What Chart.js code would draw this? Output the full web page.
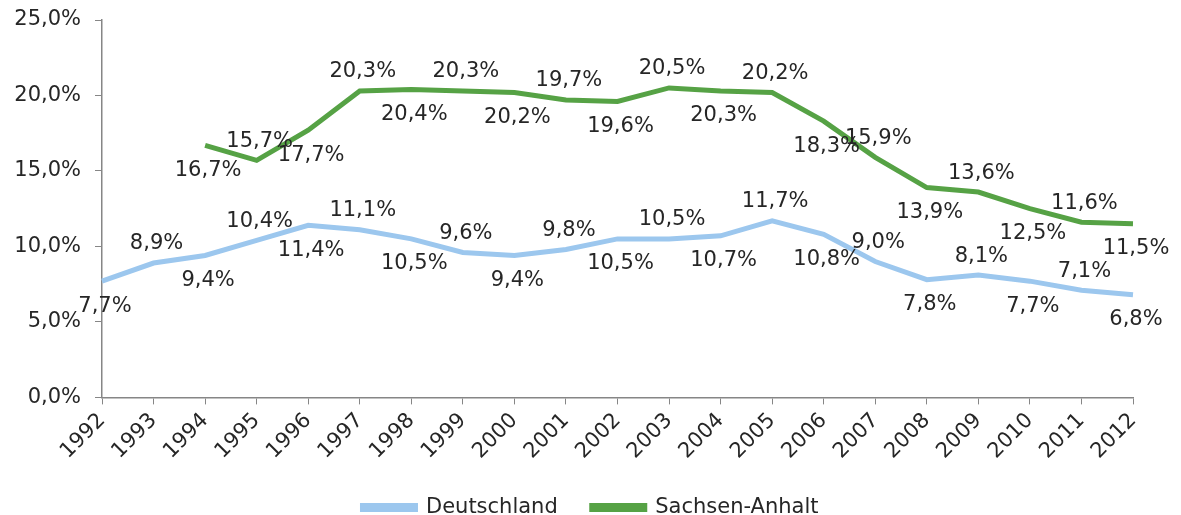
<!DOCTYPE html>
<html>
<head>
<meta charset="utf-8">
<script src="https://cdn.jsdelivr.net/npm/chart.js@4/dist/chart.umd.min.js"></script>
<style>
  html,body{margin:0;padding:0;background:#fff;}
  #wrap{width:1181px;height:515px;}
</style>
</head>
<body>
<div id="wrap"><canvas id="c" width="1181" height="515"></canvas></div>
<script>
const years = ['1992','1993','1994','1995','1996','1997','1998','1999','2000','2001','2002',
               '2003','2004','2005','2006','2007','2008','2009','2010','2011','2012'];
const deutschland = [7.7,8.9,9.4,10.4,11.4,11.1,10.5,9.6,9.4,9.8,10.5,10.5,10.7,11.7,10.8,9.0,7.8,8.1,7.7,7.1,6.8];
const sachsenAnhalt = [null,null,16.7,15.7,17.7,20.3,20.4,20.3,20.2,19.7,19.6,20.5,20.3,20.2,18.3,15.9,13.9,13.6,12.5,11.6,11.5];
const yTicks = [0,5,10,15,20,25];

const FONT = 'Verdana, "DejaVu Sans", sans-serif';
const TXT = '#262626';
const AXIS = '#868686';
const fmt = v => v.toFixed(1).replace('.', ',') + '%';

// value labels, alternating below / above the line
const valueLabels = {
  id:'valueLabels',
  afterDatasetsDraw(chart){
    const ctx = chart.ctx;
    ctx.save();
    ctx.font = '21px ' + FONT;
    ctx.fillStyle = TXT;
    ctx.textAlign = 'center';
    ctx.textBaseline = 'middle';
    chart.data.datasets.forEach((ds, di) => {
      const meta = chart.getDatasetMeta(di);
      meta.data.forEach((pt, i) => {
        const v = ds.data[i];
        if (v == null) return;
        const below = i % 2 === 0;
        ctx.fillText(fmt(v), pt.x + 3, pt.y + (below ? 25 : -19));
      });
    });
    ctx.restore();
  }
};

// centre the legend on the full canvas width, not the padded box
const legendShift = {
  id:'legendShift',
  afterLayout(chart){
    const lg = chart.legend;
    if (!lg) return;
    const dx = (chart.width - lg.left - lg.right) / 2;
    lg.left += dx; lg.right += dx;
  }
};

new Chart(document.getElementById('c').getContext('2d'), {
  type:'line',
  data:{
    labels: years,
    datasets:[
      {label:'Deutschland', data:deutschland, borderColor:'#9cc7ee', backgroundColor:'#9cc7ee',
       borderWidth:5, pointRadius:0, tension:0},
      {label:'Sachsen-Anhalt', data:sachsenAnhalt, borderColor:'#56a245', backgroundColor:'#56a245',
       borderWidth:5, pointRadius:0, tension:0}
    ]
  },
  options:{
    responsive:false, animation:false,
    layout:{padding:{top:20, right:48, left:0, bottom:-13}},
    plugins:{
      tooltip:{enabled:false},
      legend:{
        position:'bottom',
        labels:{font:{family:FONT, size:21}, color:TXT, boxWidth:53, boxHeight:4, padding:34}
      }
    },
    scales:{
      x:{
        offset:false,
        afterFit(s){ s.height -= 5; },
        grid:{drawOnChartArea:false, drawTicks:true, tickLength:7, color:AXIS},
        border:{color:AXIS, width:1.5},
        ticks:{font:{family:FONT, size:21}, color:TXT, maxRotation:45, minRotation:45, autoSkip:false, padding:4}
      },
      y:{
        min:0, max:25,
        afterFit(s){ s.width = 102; s.paddingTop = 0; s.paddingBottom = 0; },
        afterBuildTicks(s){ s.ticks = yTicks.map(v => ({value:v})); },
        grid:{drawOnChartArea:false, drawTicks:true, tickLength:7, color:AXIS},
        border:{color:AXIS, width:1.5},
        ticks:{font:{family:FONT, size:21}, color:TXT, padding:14, callback:v => fmt(v)}
      }
    }
  },
  plugins:[valueLabels, legendShift]
});
</script>
</body>
</html>
